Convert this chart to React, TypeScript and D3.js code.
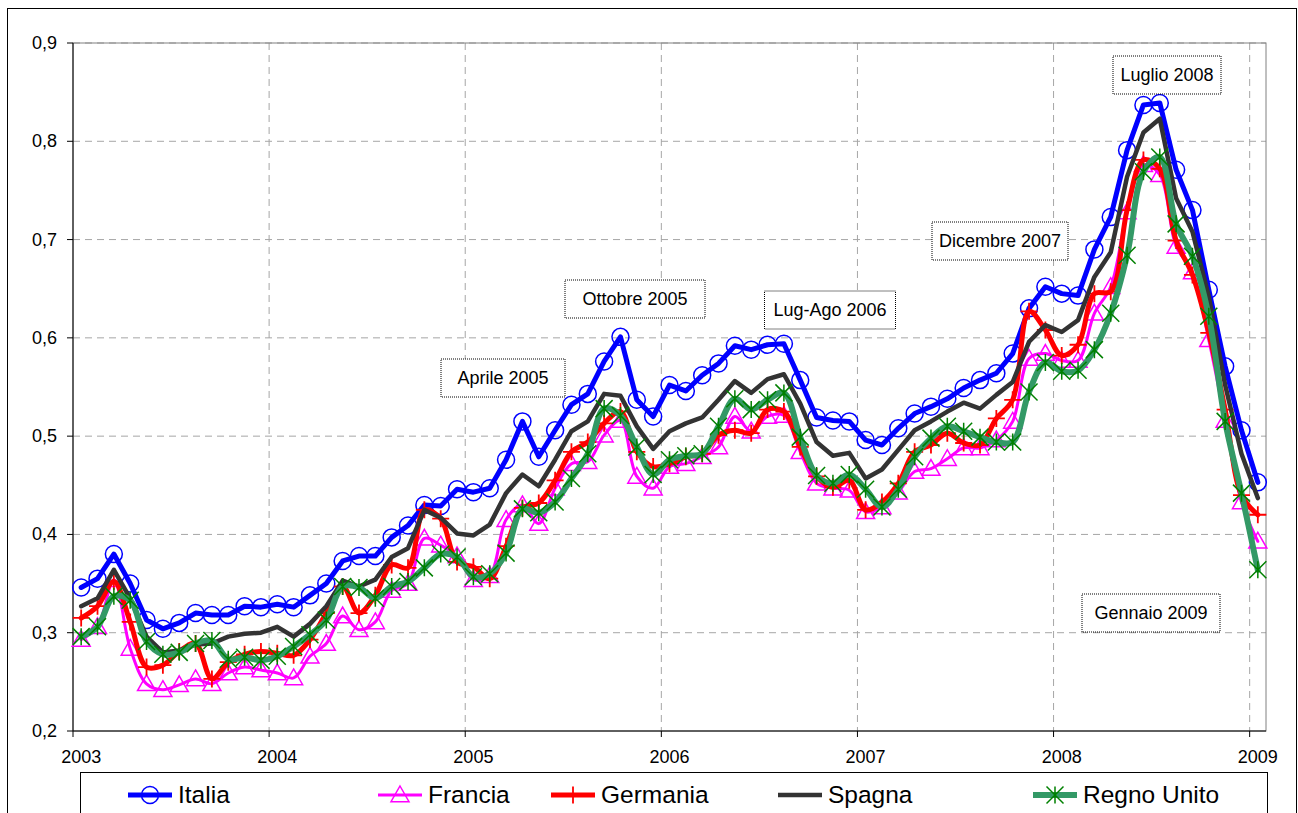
import React from 'react';
import * as d3 from 'd3';

// mesi da gennaio 2003 a gennaio 2009
const months: Date[] = d3.timeMonths(new Date(2003, 0, 1), new Date(2009, 1, 1));
const yearTicks: string[] = ['2003', '2004', '2005', '2006', '2007', '2008', '2009'];
const yTicks: number[] = [0.2, 0.3, 0.4, 0.5, 0.6, 0.7, 0.8, 0.9];

const italia: number[] = [
  0.346, 0.355, 0.380, 0.350, 0.313, 0.304, 0.310, 0.320, 0.318, 0.318, 0.327, 0.326,
  0.329, 0.326, 0.338, 0.350, 0.373, 0.378, 0.378, 0.397, 0.409, 0.430, 0.429, 0.446,
  0.443, 0.447, 0.476, 0.515, 0.479, 0.506, 0.532, 0.543, 0.576, 0.601, 0.537, 0.520,
  0.552, 0.546, 0.562, 0.574, 0.592, 0.588, 0.593, 0.594, 0.557, 0.519, 0.516, 0.515,
  0.496, 0.491, 0.508, 0.523, 0.530, 0.538, 0.549, 0.557, 0.564, 0.584, 0.630, 0.652,
  0.645, 0.643, 0.690, 0.723, 0.791, 0.837, 0.839, 0.771, 0.730, 0.649, 0.571, 0.506,
  0.453,
];
const francia: number[] = [
  0.293, 0.306, 0.354, 0.284, 0.248, 0.242, 0.247, 0.253, 0.248, 0.259, 0.265, 0.262,
  0.259, 0.254, 0.276, 0.289, 0.317, 0.303, 0.311, 0.343, 0.350, 0.396, 0.389, 0.378,
  0.354, 0.358, 0.415, 0.430, 0.411, 0.447, 0.472, 0.474, 0.501, 0.516, 0.459, 0.447,
  0.469, 0.472, 0.479, 0.489, 0.520, 0.505, 0.520, 0.521, 0.484, 0.452, 0.447, 0.445,
  0.423, 0.428, 0.443, 0.464, 0.467, 0.477, 0.488, 0.488, 0.496, 0.515, 0.579, 0.584,
  0.577, 0.577, 0.625, 0.652, 0.728, 0.776, 0.766, 0.693, 0.667, 0.598, 0.516, 0.433,
  0.393,
];
const germania: number[] = [
  0.315, 0.327, 0.352, 0.311, 0.265, 0.267, 0.281, 0.289, 0.253, 0.270, 0.278, 0.281,
  0.279, 0.277, 0.293, 0.320, 0.347, 0.320, 0.338, 0.369, 0.366, 0.425, 0.416, 0.372,
  0.367, 0.355, 0.388, 0.427, 0.432, 0.455, 0.484, 0.494, 0.513, 0.525, 0.484, 0.469,
  0.472, 0.479, 0.482, 0.501, 0.506, 0.503, 0.527, 0.525, 0.489, 0.459, 0.448, 0.455,
  0.425, 0.433, 0.452, 0.484, 0.491, 0.503, 0.493, 0.491, 0.518, 0.537, 0.627, 0.608,
  0.582, 0.593, 0.645, 0.647, 0.730, 0.781, 0.772, 0.699, 0.664, 0.605, 0.527, 0.440,
  0.420,
];
const spagna: number[] = [
  0.327, 0.335, 0.364, 0.335, 0.296, 0.280, 0.282, 0.288, 0.289, 0.296, 0.299, 0.300,
  0.306, 0.296, 0.309, 0.327, 0.353, 0.347, 0.354, 0.377, 0.386, 0.425, 0.417, 0.401,
  0.399, 0.410, 0.442, 0.461, 0.449, 0.476, 0.505, 0.515, 0.543, 0.541, 0.510, 0.487,
  0.505, 0.513, 0.519, 0.537, 0.556, 0.544, 0.558, 0.563, 0.533, 0.494, 0.480, 0.483,
  0.457, 0.466, 0.486, 0.506, 0.515, 0.525, 0.534, 0.528, 0.542, 0.555, 0.596, 0.613,
  0.606, 0.618, 0.662, 0.687, 0.764, 0.809, 0.823, 0.742, 0.708, 0.642, 0.552, 0.482,
  0.437,
];
const regnoUnito: number[] = [
  0.296, 0.306, 0.337, 0.333, 0.291, 0.278, 0.280, 0.289, 0.292, 0.273, 0.275, 0.272,
  0.276, 0.286, 0.298, 0.313, 0.347, 0.346, 0.335, 0.347, 0.352, 0.366, 0.380, 0.377,
  0.357, 0.360, 0.381, 0.426, 0.422, 0.433, 0.457, 0.482, 0.528, 0.521, 0.489, 0.461,
  0.476, 0.480, 0.482, 0.510, 0.538, 0.527, 0.537, 0.544, 0.499, 0.460, 0.452, 0.461,
  0.446, 0.428, 0.446, 0.479, 0.498, 0.510, 0.505, 0.499, 0.494, 0.494, 0.545, 0.575,
  0.566, 0.567, 0.588, 0.625, 0.684, 0.769, 0.784, 0.716, 0.683, 0.622, 0.515, 0.442,
  0.364,
];

const annotations = [
  { text: 'Aprile 2005', cx: 503, cy: 378, w: 124 },
  { text: 'Ottobre 2005', cx: 635, cy: 299, w: 140 },
  { text: 'Lug-Ago 2006', cx: 830, cy: 310, w: 131 },
  { text: 'Dicembre 2007', cx: 1000, cy: 241, w: 136 },
  { text: 'Luglio 2008', cx: 1167, cy: 75, w: 108 },
  { text: 'Gennaio 2009', cx: 1151, cy: 613, w: 138 },
];

type Marker = 'circle' | 'triangle' | 'plus' | 'star' | 'none';
const series = [
  { name: 'Italia', values: italia, color: '#0000ff', mColor: '#0000ff', width: 5, marker: 'circle' as Marker, smooth: false, lx: 150 },
  { name: 'Francia', values: francia, color: '#ff00ff', mColor: '#ff00ff', width: 3, marker: 'triangle' as Marker, smooth: true, lx: 400 },
  { name: 'Germania', values: germania, color: '#ff0000', mColor: '#ff0000', width: 5, marker: 'plus' as Marker, smooth: true, lx: 573 },
  { name: 'Spagna', values: spagna, color: '#333333', mColor: '#333333', width: 4.5, marker: 'none' as Marker, smooth: false, lx: 800 },
  { name: 'Regno Unito', values: regnoUnito, color: '#339966', mColor: '#008000', width: 6, marker: 'star' as Marker, smooth: true, lx: 1055 },
];

const W = 1298;
const H = 813;
const left = 73, right = 1266, top = 43, bottom = 731;
const font = '"Liberation Sans", Arial, sans-serif';

const x = d3.scaleBand<number>().domain(d3.range(months.length)).range([left, right]).padding(0);
const cx = (i: number) => (x(i) as number) + x.bandwidth() / 2;
const y = d3.scaleLinear().domain([0.2, 0.9]).range([bottom, top]);

const fmt = (v: number) => v.toFixed(1).replace('.', ',');

function MarkerShape({ type, color, px, py }: { type: Marker; color: string; px: number; py: number }) {
  if (type === 'circle') {
    return <circle cx={px} cy={py} r={8.5} fill="none" stroke={color} strokeWidth={1.5} />;
  }
  if (type === 'triangle') {
    const s = 9;
    return (
      <path
        d={`M${px},${py - s} L${px + s},${py + s * 0.75} L${px - s},${py + s * 0.75} Z`}
        fill="none"
        stroke={color}
        strokeWidth={1.5}
      />
    );
  }
  if (type === 'plus') {
    const s = 8.5;
    return <path d={`M${px - s},${py} H${px + s} M${px},${py - s} V${py + s}`} stroke={color} strokeWidth={1.8} />;
  }
  if (type === 'star') {
    const s = 8.5;
    return (
      <path
        d={`M${px - s},${py - s} L${px + s},${py + s} M${px - s},${py + s} L${px + s},${py - s} M${px},${py - s} V${py + s}`}
        stroke={color}
        strokeWidth={1.5}
      />
    );
  }
  return null;
}

export default function App() {
  const yearIdx = yearTicks.map((_, k) => k * 12);

  return (
    <svg width={W} height={H} style={{ position: 'absolute', left: 0, top: 0, background: '#fff' }} fontFamily={font}>
      <rect x={0} y={0} width={W} height={H} fill="#fff" />
      {/* cornice esterna */}
      <rect x={7.5} y={8.5} width={1289} height={830} fill="none" stroke="#000" strokeWidth={1} />

      {/* griglia orizzontale */}
      {yTicks.slice(1).map((t) => (
        <line key={'gy' + t} x1={left} x2={right} y1={y(t)} y2={y(t)} stroke="#a6a6a6" strokeWidth={1} strokeDasharray="7,5" />
      ))}
      {/* griglia verticale */}
      {yearIdx.slice(1).map((i) => (
        <line key={'gx' + i} x1={x(i) as number} x2={x(i) as number} y1={top} y2={bottom} stroke="#a6a6a6" strokeWidth={1} strokeDasharray="7,5" />
      ))}
      {/* bordo area grafico */}
      <rect x={left} y={top} width={right - left} height={bottom - top} fill="none" stroke="#808080" strokeWidth={1} />

      {/* assi */}
      <line x1={left} x2={left} y1={top} y2={bottom} stroke="#000" strokeWidth={1} />
      <line x1={left} x2={right} y1={bottom} y2={bottom} stroke="#000" strokeWidth={1} />
      {yTicks.map((t) => (
        <g key={'ty' + t}>
          <line x1={left - 6} x2={left} y1={y(t)} y2={y(t)} stroke="#000" />
          <text x={left - 16} y={y(t) + 6} textAnchor="end" fontSize={18}>
            {fmt(t)}
          </text>
        </g>
      ))}
      {yearIdx.map((i, k) => (
        <g key={'tx' + i}>
          <line x1={x(i) as number} x2={x(i) as number} y1={bottom} y2={bottom + 6} stroke="#000" />
          <text x={cx(i)} y={bottom + 32} textAnchor="middle" fontSize={18}>
            {yearTicks[k]}
          </text>
        </g>
      ))}

      {/* serie */}
      {series.map((s) => {
        const line = d3
          .line<number>()
          .x((_, i) => cx(i))
          .y((d) => y(d))
          .curve(s.smooth ? d3.curveCatmullRom.alpha(0.5) : d3.curveLinear);
        return (
          <g key={s.name}>
            <path d={line(s.values) || ''} fill="none" stroke={s.color} strokeWidth={s.width} strokeLinejoin="round" strokeLinecap="round" />
            {s.values.map((v, i) => (
              <MarkerShape key={i} type={s.marker} color={s.mColor} px={cx(i)} py={y(v)} />
            ))}
          </g>
        );
      })}

      {/* annotazioni */}
      {annotations.map((a) => (
        <g key={a.text}>
          <rect x={a.cx - a.w / 2} y={a.cy - 19} width={a.w} height={38} fill="#fff" stroke="#000" strokeWidth={1} strokeDasharray="1,1" />
          <text x={a.cx} y={a.cy + 6} textAnchor="middle" fontSize={18}>
            {a.text}
          </text>
        </g>
      ))}

      {/* legenda */}
      <rect x={80.5} y={772.5} width={1187} height={60} fill="#fff" stroke="#000" strokeWidth={1} />
      {series.map((s) => (
        <g key={'lg' + s.name}>
          <line x1={s.lx - 22} x2={s.lx + 22} y1={795} y2={795} stroke={s.color} strokeWidth={s.width} />
          <MarkerShape type={s.marker} color={s.mColor} px={s.lx} py={795} />
          <text x={s.lx + 28} y={803} fontSize={24.5}>
            {s.name}
          </text>
        </g>
      ))}
    </svg>
  );
}
